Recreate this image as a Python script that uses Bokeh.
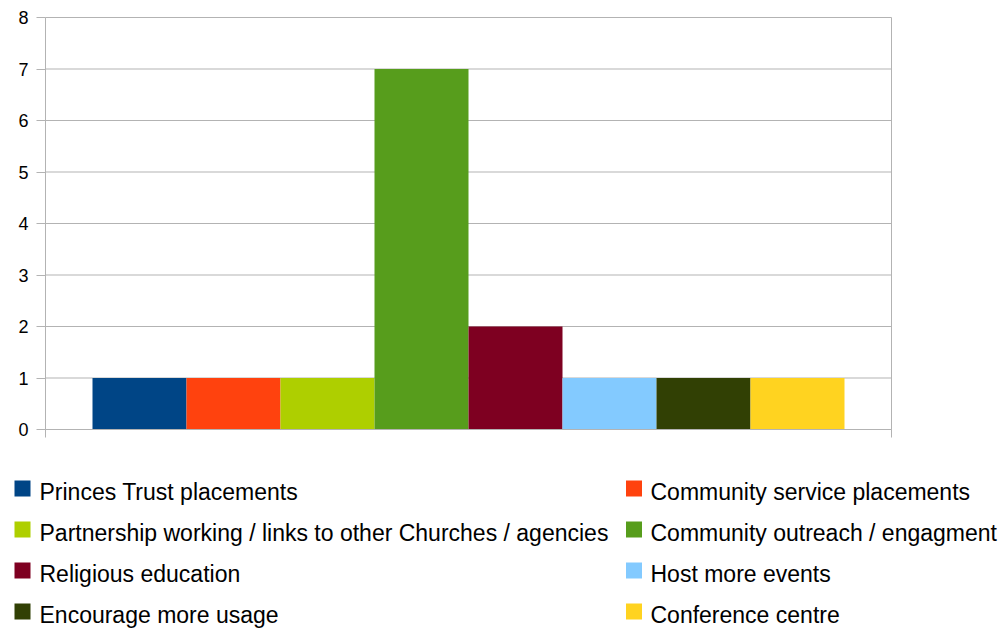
from bokeh.plotting import figure
from bokeh.models import Range1d, FixedTicker, ColumnDataSource
from bokeh.core.properties import value
from bokeh.embed import file_html
from bokeh.resources import INLINE

names = [
    "Princes Trust placements",
    "Community service placements",
    "Partnership working / links to other Churches / agencies",
    "Community outreach / engagment",
    "Religious education",
    "Host more events",
    "Encourage more usage",
    "Conference centre",
]
values = [1, 1, 1, 7, 2, 1, 1, 1]
colors = ["#004586", "#ff420e", "#aecf00", "#579d1c", "#7e0021", "#83caff", "#314004", "#ffd320"]
y_ticks = [0, 1, 2, 3, 4, 5, 6, 7, 8]
y_tick_labels = ["0", "1", "2", "3", "4", "5", "6", "7", "8"]

FONT = "Liberation Sans"
GRID = "#b3b3b3"

# page layout (pixels)
W, H = 1008, 629
PL, PR, PT, PB = 45, 891, 17, 429   # plot-area edges

n = len(names)
X0, X1 = 0, n + 1
Y0, Y1 = 0, max(y_ticks)
xs = (X1 - X0) / (PR - PL)
ys = (Y1 - Y0) / (PB - PT)

p = figure(width=W, height=H, output_backend="svg", toolbar_location=None,
           x_range=Range1d(X0 - PL * xs, X1 + (W - PR) * xs),
           y_range=Range1d(Y0 - (H - PB) * ys, Y1 + PT * ys),
           min_border_left=0, min_border_right=0, min_border_top=0, min_border_bottom=0)
p.extra_x_ranges = {"px": Range1d(0, W)}
p.extra_y_ranges = {"px": Range1d(H, 0)}
p.outline_line_color = None
p.grid.visible = False
p.background_fill_color = "white"
p.border_fill_color = "white"

# grid lines (horizontal at each y tick, plus right wall line)
p.segment(x0=X0, x1=X1, y0=y_ticks, y1=y_ticks, line_color=GRID, line_width=1, level="underlay")
p.segment(x0=X1, x1=X1, y0=Y0, y1=Y1, line_color=GRID, line_width=1, level="underlay")

src = ColumnDataSource(dict(x=[i + 1 for i in range(n)], top=values, color=colors))
p.vbar(x="x", top="top", width=1.0, bottom=0, color="color", line_color=None, source=src)

# y axis placed at x = 0 (line and ticks)
yax = p.yaxis[0]
yax.fixed_location = X0
yax.bounds = (Y0, Y1)
yax.ticker = FixedTicker(ticks=y_ticks)
yax.axis_line_color = GRID
yax.major_tick_line_color = GRID
yax.major_tick_in = 0
yax.major_tick_out = 9
yax.minor_tick_line_color = None
yax.major_label_text_color = None

# y tick labels, right-aligned 17px left of the axis, at the tick values
p.text(x=[PL - 17] * len(y_ticks), y=y_ticks, text=y_tick_labels,
       text_font=value(FONT), text_font_size="18px", text_color="#000000",
       text_align="right", text_baseline="middle", x_range_name="px")

# x axis placed at y = 0, ticks only at the category boundaries, no labels
xax = p.xaxis[0]
xax.fixed_location = Y0
xax.bounds = (X0, X1)
xax.ticker = FixedTicker(ticks=[X0, X1])
xax.major_label_text_color = None
xax.axis_line_color = GRID
xax.major_tick_line_color = GRID
xax.major_tick_in = 0
xax.major_tick_out = 8
xax.minor_tick_line_color = None

# legend: two columns, row-major, in pixel units
col_sq = [22, 633.5]
col_tx = [39, 650]
base0 = 491
pitch = 41
leg = ColumnDataSource(dict(
    sx=[col_sq[i % 2] for i in range(n)],
    tx=[col_tx[i % 2] for i in range(n)],
    sy=[488 + (i // 2) * pitch for i in range(n)],
    ty=[base0 + (i // 2) * pitch for i in range(n)],
    color=colors, name=names))
p.rect(x="sx", y="sy", width=16, height=16, color="color", line_color=None, source=leg,
       x_range_name="px", y_range_name="px")
p.text(x="tx", y="ty", text="name", text_font=value(FONT), text_font_size="23px",
       text_color="#000000", text_baseline="alphabetic", text_align="left", source=leg,
       x_range_name="px", y_range_name="px")

open("out.html", "w").write(file_html(p, INLINE))
